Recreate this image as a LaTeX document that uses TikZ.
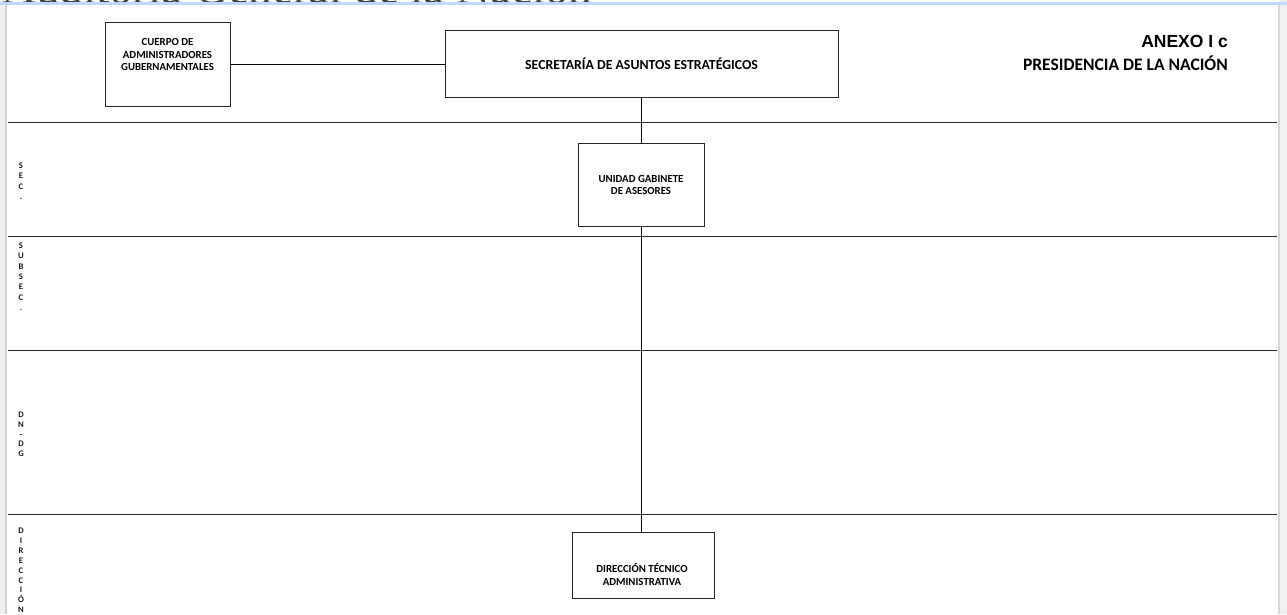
\documentclass[tikz,border=0pt]{standalone}
\usepackage{fontspec}
\setmainfont{Carlito}
\newfontfamily\arialfont{Liberation Sans}
\newfontfamily\serifhead{Liberation Serif}
\begin{document}
\begin{tikzpicture}[x=1pt,y=-1pt,
  orgbox/.style={draw=black!85,line width=1pt,inner sep=0pt,fill=white},
  boxtext/.style={font=\bfseries\fontsize{10.8}{12.2}\selectfont,align=center,inner sep=0pt},
  link/.style={draw=black,line width=1pt},
  rowline/.style={draw=black!85,line width=1pt},
  sidelabel/.style={font=\bfseries\fontsize{8.6}{9}\selectfont,inner sep=0pt,anchor=base,text=black!90}]
\useasboundingbox (0,0) rectangle (1287,614);
\fill[white] (0,0) rectangle (1287,614);

% page frame of the viewer
\fill[black!6] (0,0) rectangle (5,614);
\fill[black!18] (5,4) rectangle (7,614);
\fill[black!6] (1279,0) rectangle (1287,614);
\fill[black!15] (1278,4) rectangle (1279.5,614);

% running header, cut by the window edge
\begin{scope}
  \clip (0,0) rectangle (1287,3);
  \node[font=\serifhead\fontsize{47}{50}\selectfont,anchor=base west,inner sep=0pt,text=black!75] (hdr) at (2,3) {Auditoría General de la Nación};
\end{scope}
\fill[blue!60!cyan!25] (0,2) rectangle (1287,5);

% level separators
\foreach \yy in {122.5,236.5,350.5,514.5}
  \draw[rowline] (8,\yy) -- (1277,\yy);

% organisation boxes
\node[orgbox,minimum width=125pt,minimum height=84pt] (cag) at (167.5,64.5) {};
\node[boxtext] (cagt) at (167.5,54.5) {CUERPO DE\\ADMINISTRADORES\\GUBERNAMENTALES};

\node[orgbox,minimum width=393pt,minimum height=67pt] (sae) at (641.5,63.5) {};
\node[boxtext,font=\bfseries\fontsize{13.8}{15}\selectfont] (saet) at (641.5,64) {SECRETARÍA DE ASUNTOS ESTRATÉGICOS};

\node[orgbox,minimum width=126pt,minimum height=83pt] (uga) at (641.5,184.5) {};
\node[boxtext] (ugat) at (641,185) {UNIDAD GABINETE\\DE ASESORES};

\node[orgbox,minimum width=142pt,minimum height=66pt] (dta) at (643,565) {};
\node[boxtext] (dtat) at (642,574.5) {DIRECCIÓN TÉCNICO\\ADMINISTRATIVA};

% connectors
\draw[link] (cag.east) -- (cag.east -| sae.west);
\draw[link] (sae.south -| uga.north) -- (uga.north);
\draw[link] (uga.south) -- (uga.south |- dta.north);

% title block
\node[font=\arialfont\bfseries\fontsize{17.5}{19}\selectfont,anchor=east,inner sep=0pt] (anx) at (1228,41) {ANEXO I c};
\node[font=\bfseries\fontsize{17.5}{19}\selectfont,anchor=east,inner sep=0pt] (pres) at (1228,63) {PRESIDENCIA DE LA NACIÓN};

% vertical level labels
\foreach \ch [count=\i] in {S,E,C,.}
  \node[sidelabel] (sec\i) at (21,{168.5+(\i-1)*10.4}) {\ch};
\foreach \ch [count=\i] in {S,U,B,S,E,C,.}
  \node[sidelabel] (sub\i) at (21,{248.5+(\i-1)*10.3}) {\ch};
\foreach \ch [count=\i] in {D,N,-,D,G}
  \node[sidelabel] (dn\i) at (21,{417.5+(\i-1)*9.8}) {\ch};
\foreach \ch [count=\i] in {D,I,R,E,C,C,I,Ó,N}
  \node[sidelabel] (dir\i) at (21,{533.5+(\i-1)*9.9}) {\ch};
\end{tikzpicture}
\end{document}
